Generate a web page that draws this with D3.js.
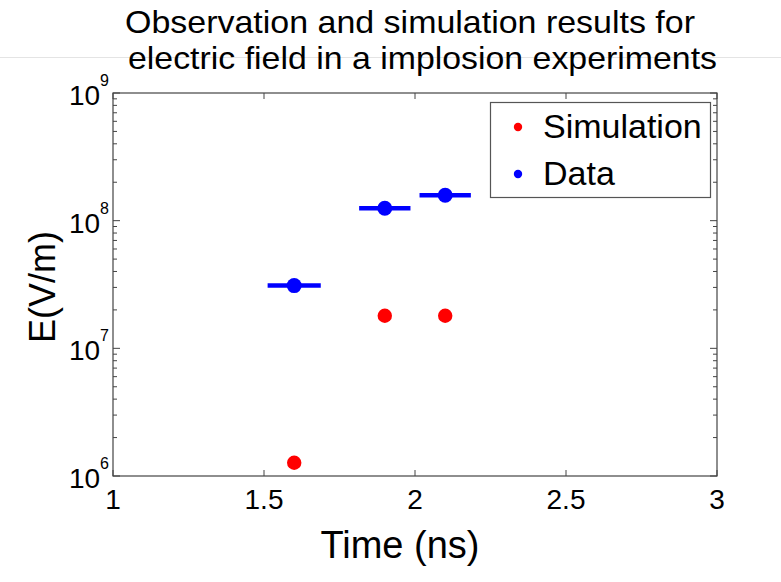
<!DOCTYPE html>
<html>
<head>
<meta charset="utf-8">
<script src="https://cdn.jsdelivr.net/npm/d3@7"></script>
<style>
  body { margin: 0; background: #fff; }
  text { font-family: "Liberation Sans", Arial, Helvetica, sans-serif; fill: #000; }
</style>
</head>
<body>
<div class="chart"></div>
<script>
// values
var dataTime = [1.6, 1.9, 2.1];
var dataField = [3.1e7, 1.25e8, 1.58e8];
var dataTimeErr = [0.088, 0.085, 0.085];
var simTime = [1.6, 1.9, 2.1];
var simField = [1.27e6, 1.8e7, 1.8e7];
var xTicks = [1, 1.5, 2, 2.5, 3];
var yDecades = [6, 7, 8, 9];
var titleLines = ["Observation and simulation results for", "electric field in a implosion experiments"];

var svgWidth = 781;
var svgHeight = 582;

var margin = { top: 93, right: 64, bottom: 106, left: 113 };
var width = svgWidth - margin.left - margin.right;
var height = svgHeight - margin.top - margin.bottom;

var svg = d3.select(".chart")
  .append("svg")
  .attr("width", svgWidth)
  .attr("height", svgHeight);

// faint rule behind the title
svg.append("line")
  .attr("x1", 0).attr("x2", svgWidth)
  .attr("y1", 57.5).attr("y2", 57.5)
  .attr("stroke", "#e4e4e4")
  .attr("stroke-width", 1);

// title, two lines
svg.append("text")
  .attr("x", 125).attr("y", 32.5)
  .attr("font-size", "32px")
  .attr("textLength", 570)
  .attr("lengthAdjust", "spacingAndGlyphs")
  .text(titleLines[0]);
svg.append("text")
  .attr("x", 128).attr("y", 68.5)
  .attr("font-size", "32px")
  .attr("textLength", 589)
  .attr("lengthAdjust", "spacingAndGlyphs")
  .text(titleLines[1]);

var chartGroup = svg.append("g")
  .attr("transform", `translate(${margin.left}, ${margin.top})`);

var xScale = d3.scaleLinear().domain([1, 3]).range([0, width]);
var yScale = d3.scaleLog().domain([1e6, 1e9]).range([height, 0]);

// minor log ticks
var minorTicks = [];
yDecades.slice(0, -1).forEach(function(p) {
  for (var m = 2; m <= 9; m++) minorTicks.push(m * Math.pow(10, p));
});

var axisColor = "#444";

// frame
chartGroup.append("rect")
  .attr("x", 0).attr("y", 0)
  .attr("width", width).attr("height", height)
  .attr("fill", "none")
  .attr("stroke", axisColor)
  .attr("stroke-width", 1.2);

// y ticks, left and right, pointing inward
[0, width].forEach(function(x0) {
  var dir = x0 === 0 ? 1 : -1;
  chartGroup.selectAll(null)
    .data(minorTicks)
    .enter()
    .append("line")
    .attr("x1", x0).attr("x2", x0 + dir * 4)
    .attr("y1", d => yScale(d)).attr("y2", d => yScale(d))
    .attr("stroke", axisColor);
  chartGroup.selectAll(null)
    .data(yDecades)
    .enter()
    .append("line")
    .attr("x1", x0).attr("x2", x0 + dir * 7)
    .attr("y1", d => yScale(Math.pow(10, d))).attr("y2", d => yScale(Math.pow(10, d)))
    .attr("stroke", axisColor);
});

// x ticks, bottom and top
[0, height].forEach(function(y0) {
  var dir = y0 === 0 ? 1 : -1;
  chartGroup.selectAll(null)
    .data(xTicks)
    .enter()
    .append("line")
    .attr("x1", d => xScale(d)).attr("x2", d => xScale(d))
    .attr("y1", y0).attr("y2", y0 + dir * 6)
    .attr("stroke", axisColor);
});

// x tick labels
chartGroup.selectAll(null)
  .data(xTicks)
  .enter()
  .append("text")
  .attr("x", d => xScale(d))
  .attr("y", height + 33)
  .attr("text-anchor", "middle")
  .attr("font-size", "28px")
  .text(d => d3.format("")(d));

// y tick labels as 10^n
var yLabels = chartGroup.selectAll(null)
  .data(yDecades)
  .enter()
  .append("text")
  .attr("x", -4)
  .attr("y", d => yScale(Math.pow(10, d)) + 12)
  .attr("text-anchor", "end")
  .attr("font-size", "28px");
yLabels.append("tspan").text("10");
yLabels.append("tspan")
  .attr("dy", -19)
  .attr("font-size", "16px")
  .text(d => d);

// axis titles
svg.append("text")
  .attr("x", 400)
  .attr("y", 558)
  .attr("text-anchor", "middle")
  .attr("font-size", "38px")
  .text("Time (ns)");

svg.append("text")
  .attr("transform", "translate(55, 287) rotate(-90)")
  .attr("text-anchor", "middle")
  .attr("font-size", "36px")
  .text("E(V/m)");

// data error bars
chartGroup.selectAll(null)
  .data(dataTime)
  .enter()
  .append("line")
  .attr("x1", (d, i) => xScale(d - dataTimeErr[i]))
  .attr("x2", (d, i) => xScale(d + dataTimeErr[i]))
  .attr("y1", (d, i) => yScale(dataField[i]))
  .attr("y2", (d, i) => yScale(dataField[i]))
  .attr("stroke", "#0000ff")
  .attr("stroke-width", 4.5);

// data points
chartGroup.selectAll(null)
  .data(dataTime)
  .enter()
  .append("circle")
  .attr("cx", d => xScale(d))
  .attr("cy", (d, i) => yScale(dataField[i]))
  .attr("r", 7.5)
  .attr("fill", "#0000ff");

// simulation points
chartGroup.selectAll(null)
  .data(simTime)
  .enter()
  .append("circle")
  .attr("cx", d => xScale(d))
  .attr("cy", (d, i) => yScale(simField[i]))
  .attr("r", 7.2)
  .attr("fill", "#ff0000");

// legend
var legend = svg.append("g");
legend.append("rect")
  .attr("x", 490.5).attr("y", 102.5)
  .attr("width", 220).attr("height", 95)
  .attr("fill", "#fff")
  .attr("stroke", "#555")
  .attr("stroke-width", 1.2);

var legendItems = [
  { label: "Simulation", color: "#ff0000", y: 138 },
  { label: "Data", color: "#0000ff", y: 185 }
];
legend.selectAll(null)
  .data(legendItems)
  .enter()
  .append("circle")
  .attr("cx", 518)
  .attr("cy", d => d.y - 11)
  .attr("r", 4.2)
  .attr("fill", d => d.color);
legend.selectAll(null)
  .data(legendItems)
  .enter()
  .append("text")
  .attr("x", 543)
  .attr("y", d => d.y)
  .attr("font-size", "34px")
  .text(d => d.label);
</script>
</body>
</html>
